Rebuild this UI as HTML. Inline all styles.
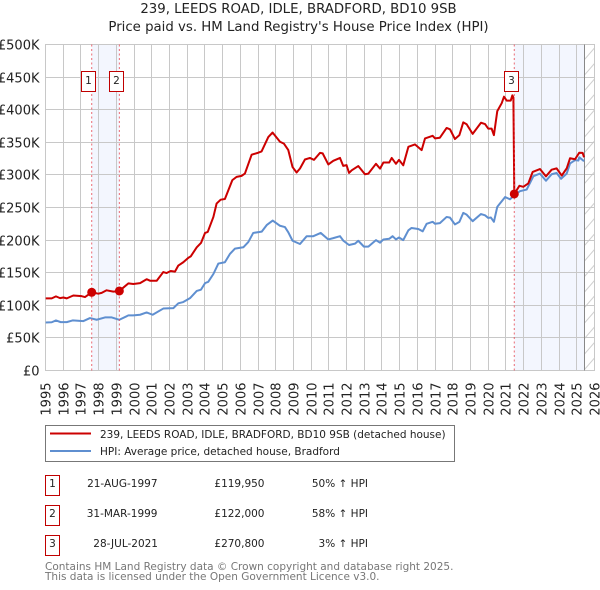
<!DOCTYPE html>
<html>
<head>
<meta charset="utf-8">
<style>
html,body{margin:0;padding:0;background:#fff}
svg{display:block;font-family:"DejaVu Sans","Liberation Sans",sans-serif}
</style>
</head>
<body>
<svg id="chart" width="600" height="590" viewBox="0 0 600 590" xmlns="http://www.w3.org/2000/svg">
  <defs>
    <pattern id="hatch" patternUnits="userSpaceOnUse" width="10" height="15.5" patternTransform="translate(584.5 0)">
      <line x1="0" y1="13" x2="10" y2="1.5" stroke="#cfcfcf" stroke-width="1"/>
    </pattern>
  </defs>
  <text x="298.5" y="13" font-size="13.3" text-anchor="middle" fill="#222">239, LEEDS ROAD, IDLE, BRADFORD, BD10 9SB</text>
  <text x="298.5" y="31" font-size="13.3" text-anchor="middle" fill="#222">Price paid vs. HM Land Registry's House Price Index (HPI)</text>
  <g id="bands"></g>
  <g id="grid"></g>
  <g id="series"></g>
  <g id="markers"></g>
  <g id="labels"></g>

  <g>
    <rect x="45.5" y="425.5" width="409" height="36" fill="#fff" stroke="#777" stroke-width="1"/>
    <line x1="50" x2="91" y1="433.5" y2="433.5" stroke="#cc0000" stroke-width="2"/>
    <text x="100" y="438" font-size="10.5" fill="#222">239, LEEDS ROAD, IDLE, BRADFORD, BD10 9SB (detached house)</text>
    <line x1="50" x2="91" y1="451" y2="451" stroke="#5f8fd0" stroke-width="2"/>
    <text x="100" y="455" font-size="10.5" fill="#222">HPI: Average price, detached house, Bradford</text>
  </g>

  <g font-size="10.5" fill="#222">
    <rect x="45.5" y="475.5" width="14" height="20" fill="#fff" stroke="#c00000"/>
    <text x="52.5" y="487" text-anchor="middle">1</text>
    <text x="157.5" y="487" text-anchor="end">21-AUG-1997</text>
    <text x="264.5" y="487" text-anchor="end">£119,950</text>
    <text x="368" y="487" text-anchor="end">50% ↑ HPI</text>
    <rect x="45.5" y="505.5" width="14" height="20" fill="#fff" stroke="#c00000"/>
    <text x="52.5" y="517" text-anchor="middle">2</text>
    <text x="157.5" y="517" text-anchor="end">31-MAR-1999</text>
    <text x="264.5" y="517" text-anchor="end">£122,000</text>
    <text x="368" y="517" text-anchor="end">58% ↑ HPI</text>
    <rect x="45.5" y="535.5" width="14" height="20" fill="#fff" stroke="#c00000"/>
    <text x="52.5" y="547" text-anchor="middle">3</text>
    <text x="158" y="547" text-anchor="end">28-JUL-2021</text>
    <text x="264.5" y="547" text-anchor="end">£270,800</text>
    <text x="368" y="547" text-anchor="end">3% ↑ HPI</text>
  </g>

  <text x="45" y="570" font-size="10.5" fill="#777">Contains HM Land Registry data © Crown copyright and database right 2025.</text>
  <text x="45" y="580" font-size="10.5" fill="#777">This data is licensed under the Open Government Licence v3.0.</text>
</svg>
<script>
const yearTicks = [1995,1996,1997,1998,1999,2000,2001,2002,2003,2004,2005,2006,2007,2008,2009,2010,2011,2012,2013,2014,2015,2016,2017,2018,2019,2020,2021,2022,2023,2024,2025,2026];
const valueTicks = [0,50,100,150,200,250,300,350,400,450,500];
const valueTickLabels = ['£0','£50K','£100K','£150K','£200K','£250K','£300K','£350K','£400K','£450K','£500K'];

const hpiDates = [1995.01,1995.35,1995.59,1995.86,1996.20,1996.53,1997.14,1997.51,1997.89,1998.36,1998.74,1999.17,1999.68,1999.96,2000.34,2000.71,2001.05,2001.65,2002.22,2002.50,2002.78,2003.16,2003.54,2003.78,2004.01,2004.19,2004.48,2004.76,2005.13,2005.42,2005.70,2006.17,2006.45,2006.73,2007.21,2007.49,2007.83,2008.24,2008.52,2008.71,2008.95,2009.37,2009.75,2010.12,2010.54,2010.97,2011.25,2011.63,2011.82,2012.14,2012.48,2012.66,2012.98,2013.23,2013.66,2013.89,2014.08,2014.41,2014.60,2014.79,2014.96,2015.20,2015.49,2015.67,2016.05,2016.30,2016.52,2016.86,2017.00,2017.27,2017.65,2017.84,2018.12,2018.37,2018.59,2018.78,2019.12,2019.59,2019.82,2020.00,2020.15,2020.32,2020.51,2020.57,2020.95,2021.23,2021.47,2021.79,2022.17,2022.55,2022.92,2023.26,2023.58,2023.86,2024.11,2024.43,2024.62,2024.90,2025.09,2025.14,2025.41];
const hpiValues = [73.7,74,76.8,74.2,74.2,76.8,75.8,80.4,77.8,81.4,81.4,77.8,84.5,84.5,85.5,89,85.5,95,95.7,103,105,111,122,124,134,136,148,164,166,179,187,189,197,211,213,223,230,222,220,212,199,194,206,206,211,201,203,206,199,192.5,194.6,199,190,190,200,196,201,202,206,201,204,200,215,218.6,217,213.5,225,228,225,226,235.5,234.5,224,228,241.7,239,229,240,238,234,234.6,228,251,253,266,262.6,268.8,275,277.5,298,302,291,301,303,294,302,317.6,322.6,322,327,321];

const priceDates = [1995.01,1995.35,1995.59,1995.82,1996.01,1996.20,1996.57,1997.04,1997.23,1997.61,1997.98,1998.17,1998.45,1998.83,1999.17,1999.39,1999.68,1999.96,2000.34,2000.71,2000.90,2001.28,2001.65,2001.84,2002.07,2002.31,2002.50,2002.78,2003.07,2003.20,2003.54,2003.78,2004.01,2004.16,2004.48,2004.66,2004.89,2005.13,2005.55,2005.79,2006.07,2006.26,2006.64,2007.01,2007.20,2007.58,2007.82,2008.24,2008.46,2008.71,2008.95,2009.18,2009.37,2009.65,2009.93,2010.16,2010.50,2010.65,2010.97,2011.25,2011.63,2011.81,2012.00,2012.14,2012.29,2012.66,2013.04,2013.23,2013.66,2013.89,2014.08,2014.41,2014.55,2014.79,2014.96,2015.20,2015.49,2015.86,2016.24,2016.43,2016.86,2017.00,2017.27,2017.65,2017.84,2018.12,2018.37,2018.59,2018.78,2019.12,2019.59,2019.82,2020.00,2020.19,2020.32,2020.51,2020.76,2020.89,2021.04,2021.27,2021.36,2021.42,2021.47,2021.76,2021.98,2022.26,2022.51,2022.92,2023.26,2023.58,2023.86,2024.15,2024.43,2024.62,2024.90,2025.14,2025.33,2025.41];
const priceValues = [110.6,110.6,113.7,111,112,110.6,115,114,112.6,119.95,117.8,119,123,121,122,127,133.6,132.6,134,140,137.7,137.7,151,149.5,152.6,151.6,161,166,173,175,189,195.6,211,212.5,235.5,256,262,263,292,297,298.5,302,331,334,336,358,365,350.8,348,338,312,303.7,309.8,323.6,326,323,333.8,333,316,321.6,326,313.8,315,303,307,313.6,301,302,317,309.6,319,319,326,317,323,314.7,343,346.8,338,356,360,356,357,372,370,355,361,380.6,377.7,362.9,380,378,371,371,361,397.8,410,420,414,414,422,419,270.8,283.3,281.7,286.9,304.6,309,297.8,308,310,299,310,325.6,324,334,333.8,327];

const saleNumbers = ['1','2','3'];
const saleDates = [1997.61,1999.17,2021.47];
const salePrices = [119.95,122,270.8];
const dataEndDate = 2025.42;

const NS = 'http://www.w3.org/2000/svg';
const xScale = d => 45.5 + (d - 1995) * (549 / 31);
const yScale = v => 370.5 - v * 0.652;
const snap = p => Math.floor(p) + 0.5;

function make(parent, tag, attrs) {
  const el = document.createElementNS(NS, tag);
  for (const k in attrs) el.setAttribute(k, attrs[k]);
  document.getElementById(parent).appendChild(el);
  return el;
}

// shaded bands
const band1 = make('bands', 'rect', {x: xScale(saleDates[0]), y: 44.5, width: xScale(saleDates[1]) - xScale(saleDates[0]), height: 326, fill: '#f3f6fe'});


const band2 = make('bands', 'rect', {x: xScale(saleDates[2]), y: 44.5, width: xScale(dataEndDate) - xScale(saleDates[2]), height: 326, fill: '#f3f6fe'});


const hatchArea = make('bands', 'rect', {x: xScale(dataEndDate), y: 44.5, width: 594.5 - xScale(dataEndDate), height: 326, fill: 'url(#hatch)'});



// grid + tick labels
yearTicks.forEach(y => {
  const px = y === 2026 ? 594.5 : snap(xScale(y));
  const g = make('grid', 'line', {x1: px, x2: px, y1: 44, y2: 371, stroke: '#c8c8c8', 'stroke-width': 1});
  
  
  const t = make('labels', 'text', {x: 0, y: 0, 'font-size': 13, fill: '#222', 'text-anchor': 'end', transform: 'translate(' + (px + 5) + ',382.5) rotate(-90)'});
  t.textContent = y;
  
  
});
valueTicks.forEach((v, i) => {
  const py = snap(yScale(v));
  const g = make('grid', 'line', {x1: 45, x2: 595, y1: py, y2: py, stroke: '#c8c8c8', 'stroke-width': 1});
  
  
  const t = make('labels', 'text', {x: 39.5, y: py + 5, 'font-size': 13, fill: '#222', 'text-anchor': 'end'});
  t.textContent = valueTickLabels[i];
  
  
});
const endLine = make('grid', 'line', {x1: snap(xScale(dataEndDate)), x2: snap(xScale(dataEndDate)), y1: 44.5, y2: 370.5, stroke: '#888', 'stroke-width': 1});



// series
function pathFrom(dates, values) {
  return dates.map((d, i) => (i ? 'L' : 'M') + xScale(d).toFixed(2) + ' ' + yScale(values[i]).toFixed(2)).join('');
}
const hpiLine = make('series', 'path', {d: pathFrom(hpiDates, hpiValues), fill: 'none', stroke: '#5f8fd0', 'stroke-width': 2, 'stroke-linejoin': 'round'});


const priceLine = make('series', 'path', {d: pathFrom(priceDates, priceValues), fill: 'none', stroke: '#cc0000', 'stroke-width': 2, 'stroke-linejoin': 'round'});



// sale markers
saleDates.forEach((d, i) => {
  const px = xScale(d);
  const v = make('markers', 'line', {x1: px, x2: px, y1: 44.5, y2: 370.5, stroke: '#e8505b', 'stroke-width': 1, 'stroke-dasharray': '2 2.5', opacity: 0.85});
  
  
  const c = make('markers', 'circle', {cx: px, cy: yScale(salePrices[i]), r: 4.5, fill: '#cc0000'});
  
  
  const bx = Math.floor(px - 10) + 0.5;
  const b = make('markers', 'rect', {x: bx, y: 71.5, width: 14, height: 20, fill: '#fff', stroke: '#c00000', 'stroke-width': 1});
  
  
  const t = make('markers', 'text', {x: bx + 7, y: 84, 'font-size': 10.5, 'text-anchor': 'middle', fill: '#222'});
  t.textContent = saleNumbers[i];
  
  
});
</script>
</body>
</html>
